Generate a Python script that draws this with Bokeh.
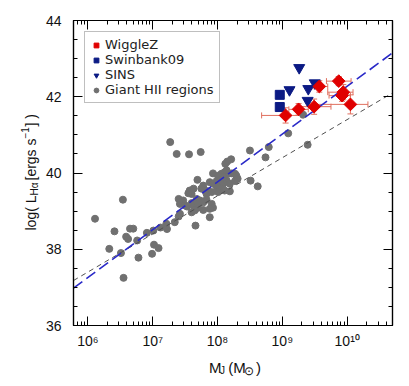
import math
from bokeh.plotting import figure
from bokeh.layouts import row, column
from bokeh.models import (Range1d, LogAxis, LinearAxis, FixedTicker,
                          CustomJSTickFormatter, Legend, LegendItem, Whisker,
                          ColumnDataSource, Label, TeeHead)
from bokeh.embed import file_html
from bokeh.resources import INLINE

# ---------------- data (log10 of mass, log10 of L_Halpha) ----------------
hii_logm = [6.11, 6.54, 6.41, 6.65, 6.70, 6.59, 6.62, 6.76, 6.33, 6.51, 6.78, 6.55, 6.99, 7.02,
            7.09, 6.91, 7.01, 7.12, 7.21, 7.22, 7.34, 7.40, 7.42, 7.66, 7.27, 7.37, 7.56, 7.74,
            7.40, 7.47, 7.42, 7.50, 7.53, 7.60, 7.63, 7.57, 7.63, 7.60, 7.55, 7.69, 7.78, 7.81,
            7.75, 7.86, 7.83, 7.68, 7.73, 7.70, 7.78, 7.83, 7.91, 7.93, 7.88, 7.78, 7.70, 7.60,
            7.65, 7.88,
            7.93, 8.01, 8.06, 8.11, 8.17, 8.22, 8.27, 8.29, 7.88, 7.93, 7.99, 8.04, 8.09, 8.14,
            8.19, 8.27, 8.31, 7.99, 8.04, 8.01, 8.11, 8.19, 7.91, 8.15, 8.21, 8.12, 8.09, 8.14,
            8.51, 8.62, 8.50, 8.79, 8.74, 9.09, 9.32, 9.39]
hii_logl = [38.80, 39.30, 38.47, 38.54, 38.54, 38.33, 38.27, 38.23, 38.01, 37.90, 37.78, 37.25, 37.88, 38.12,
            38.03, 38.43, 38.49, 38.57, 38.67, 38.53, 38.71, 38.86, 38.93, 38.62, 40.81, 40.50, 40.49, 40.55,
            39.32, 39.28, 39.19, 39.15, 39.12, 39.21, 39.15, 39.54, 39.59, 39.45, 39.47, 39.82, 39.67, 39.54,
            39.59, 39.52, 39.45, 39.32, 39.28, 39.19, 39.23, 39.30, 39.19, 39.09, 39.06, 39.03, 39.09, 38.97,
            39.02, 38.84,
            39.99, 39.93, 39.98, 40.02, 39.98, 39.99, 39.98, 39.93, 39.76, 39.72, 39.80, 39.76, 39.72, 39.80,
            39.72, 39.79, 39.85, 39.63, 39.59, 39.50, 39.54, 39.52, 39.50, 40.30, 40.36, 40.24, 39.89, 40.07,
            39.80, 39.65, 40.59, 40.68, 40.41, 41.04, 41.53, 40.74]

wz_logm = [9.05, 9.25, 9.49, 9.57, 9.87, 9.94, 9.92, 10.05]
wz_logl = [41.51, 41.67, 41.74, 42.27, 42.41, 42.12, 42.03, 41.80]
wz_logm_lo = [8.68, 9.10, 9.25, 9.47, 9.68, 9.70, 9.72, 9.49]
wz_logm_hi = [9.30, 9.40, 9.75, 9.70, 10.06, 10.09, 10.05, 10.32]
wz_logl_err = [0.20, 0.15, 0.20, 0.15, 0.12, 0.20, 0.15, 0.25]

sw_logm = [8.96, 8.96]
sw_logl = [42.05, 41.73]

sins_logm = [9.26, 9.11, 9.40, 9.39, 9.50]
sins_logl = [42.76, 42.18, 42.21, 41.90, 42.36]

fit_logm = [5.778, 10.699]
fit_wz_logl = [36.98, 43.15]
fit_hii_logl = [37.18, 42.10]

x_tick_exp = [6, 7, 8, 9, 10]
y_ticks = [36, 38, 40, 42, 44]

# ---------------- geometry ----------------
TOTAL_W, TOTAL_H = 409, 386
YT_W = 42          # strip holding the y title
XT_H = 34          # strip holding the x title
MW, MH = TOTAL_W - YT_W, TOTAL_H - XT_H
BL, BR, BT = 71 - YT_W, 17, 20
FH = 305
BB = MH - BT - FH

FONT = "Liberation Sans"
RED = "#e00000"
NAVY = "#0b1a84"
GRAY = "#707070"

p = figure(width=MW, height=MH, x_axis_type="log",
           x_range=Range1d(10 ** fit_logm[0], 10 ** fit_logm[1]), y_range=Range1d(36, 44),
           output_backend="svg", toolbar_location=None,
           min_border_left=BL, min_border_right=BR, min_border_top=BT, min_border_bottom=BB)
p.grid.visible = False
p.outline_line_color = "black"
p.outline_line_width = 1.2
p.border_fill_color = "white"

sup = {'0': '\u2070', '1': '\u00b9', '2': '\u00b2', '3': '\u00b3', '4': '\u2074',
       '5': '\u2075', '6': '\u2076', '7': '\u2077', '8': '\u2078', '9': '\u2079'}
fmt = CustomJSTickFormatter(args=dict(sup=sup), code="""
const e = Math.round(Math.log10(tick));
return '10' + String(e).split('').map(c => sup[c]).join('');
""")
blank = CustomJSTickFormatter(code="return '';")

xt = FixedTicker(ticks=[10 ** e for e in x_tick_exp],
                 minor_ticks=[m * 10 ** e for e in range(5, 11) for m in range(2, 10)])
yt = FixedTicker(ticks=y_ticks, minor_ticks=[36 + 0.5 * i for i in range(17)])


def style(ax, labels=True):
    ax.axis_line_color = "black"
    ax.axis_line_width = 1.2
    ax.major_tick_in = 9
    ax.major_tick_out = 0
    ax.minor_tick_in = 4
    ax.minor_tick_out = 0
    ax.major_tick_line_color = "black"
    ax.minor_tick_line_color = "black"
    ax.major_label_text_font = FONT
    ax.major_label_text_font_size = "14px"
    ax.major_label_text_color = "#111111"
    ax.axis_label = None
    if not labels:
        ax.formatter = blank
        ax.major_label_standoff = 0


xa = p.xaxis[0]
xa.ticker = xt
xa.formatter = fmt
style(xa)
xa.major_label_standoff = 7

ya = p.yaxis[0]
ya.ticker = yt
style(ya)
ya.major_label_standoff = 12

top = LogAxis(ticker=xt)
style(top, labels=False)
p.add_layout(top, "above")

right = LinearAxis(ticker=yt)
style(right, labels=False)
p.add_layout(right, "right")

# ---------------- glyphs ----------------
r_hii = p.scatter([10 ** v for v in hii_logm], hii_logl, marker="circle", size=7,
                  fill_color=GRAY, line_color=GRAY)

p.line([10 ** v for v in fit_logm], fit_hii_logl, line_color="#505050", line_width=1,
       line_dash="5 4")
p.line([10 ** v for v in fit_logm], fit_wz_logl, line_color="#2a2ac8", line_width=1.6,
       line_dash="11 5")

err = ColumnDataSource(dict(
    x=[10 ** v for v in wz_logm], y=wz_logl,
    xlo=[10 ** v for v in wz_logm_lo], xhi=[10 ** v for v in wz_logm_hi],
    ylo=[a - b for a, b in zip(wz_logl, wz_logl_err)],
    yhi=[a + b for a, b in zip(wz_logl, wz_logl_err)]))
ecol = "#e0705f"
for dim, base, lo, hi in (("width", "y", "xlo", "xhi"), ("height", "x", "ylo", "yhi")):
    w = Whisker(source=err, base=base, lower=lo, upper=hi, dimension=dim,
                line_color=ecol, line_width=1,
                lower_head=TeeHead(size=6, line_color=ecol, line_width=1),
                upper_head=TeeHead(size=6, line_color=ecol, line_width=1))
    p.add_layout(w)

r_sw = p.scatter([10 ** v for v in sw_logm], sw_logl, marker="square", size=9,
                 fill_color=NAVY, line_color=NAVY)
r_sins = p.scatter([10 ** v for v in sins_logm], sins_logl, marker="inverted_triangle",
                   size=11, fill_color=NAVY, line_color=NAVY)
r_wz = p.scatter([10 ** v for v in wz_logm], wz_logl, marker="square", angle=math.pi / 4,
                 size=9, fill_color=RED, line_color=RED)

legend = Legend(items=[LegendItem(label="WiggleZ", renderers=[r_wz]),
                       LegendItem(label="Swinbank09", renderers=[r_sw]),
                       LegendItem(label="SINS", renderers=[r_sins]),
                       LegendItem(label="Giant HII regions", renderers=[r_hii])],
                location="top_left")
legend.label_text_font = "DejaVu Sans"
legend.label_text_font_size = "13px"
legend.label_text_color = "#222222"
legend.glyph_width = 12
legend.glyph_height = 12
legend.label_height = 13
legend.spacing = 0
legend.padding = 5
legend.margin = 11
legend.label_standoff = 3
legend.border_line_color = "#808080"
legend.border_line_width = 1
p.add_layout(legend)


# ---------------- axis titles, built from pieces in their own strips ----------------
def strip(w, h, x0, y0):
    f = figure(width=w, height=h, x_range=Range1d(x0, x0 + w), y_range=Range1d(y0 + h, y0),
               output_backend="svg", toolbar_location=None,
               x_axis_location=None, y_axis_location=None, min_border=0)
    f.grid.visible = False
    f.outline_line_color = None
    f.border_fill_color = "white"
    return f


def lab(f, text, x, y, size, angle=0.0):
    f.add_layout(Label(x=x, y=y, text=text, angle=angle,
                       text_font=FONT, text_font_size=size, text_color="#111111",
                       text_align="left", text_baseline="alphabetic"))


ys = strip(YT_W, TOTAL_H, 0, 0)
A = math.pi / 2
yx = 30
lab(ys, "log( L", yx, 230, "14px", A)
lab(ys, "H\u03b1", yx + 4, 195, "10px", A)
lab(ys, "[ergs s", yx, 180, "14px", A)
lab(ys, "\u22121", yx - 6, 138, "10px", A)
lab(ys, "] )", yx, 126, "14px", A)

xs = strip(MW, XT_H, YT_W, MH)
xb = 367
lab(xs, "M", 198, xb, "15px")
lab(xs, "J", 210.5, xb + 3, "10px")
lab(xs, "(M", 220, xb, "15px")
lab(xs, "\u2299", 238, xb + 3, "12px")
lab(xs, ")", 252, xb, "15px")

layout = row(ys, column(p, xs, spacing=0), spacing=0)
open("out.html", "w").write(file_html(layout, INLINE))
